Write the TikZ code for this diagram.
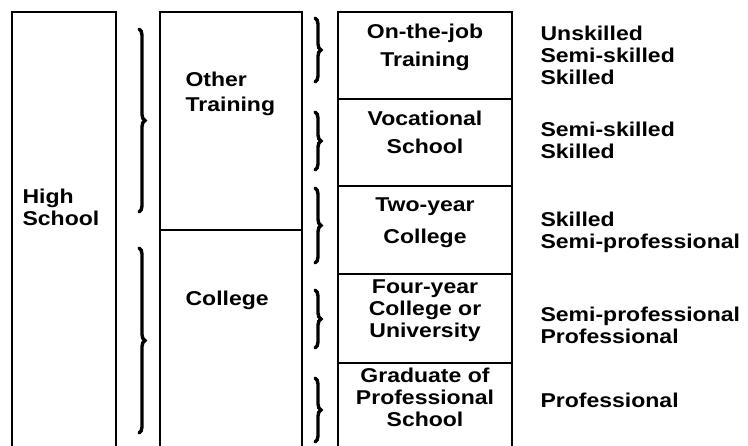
\documentclass[tikz,border=0pt]{standalone}
\usepackage{fontspec}
\setmainfont{Liberation Sans}[FakeStretch=1.15]
\usetikzlibrary{decorations.pathreplacing}
\begin{document}
\begin{tikzpicture}[x=1pt,y=-1pt,line width=1.2pt,
  lbl/.style={font=\fontsize{20}{22}\selectfont\bfseries,inner sep=0pt,align=center},
  lbll/.style={lbl,align=left,anchor=west},
  brc/.style={decorate,decoration={brace,amplitude=6pt},line width=3.4pt,line cap=round}]
\path[use as bounding box] (0,0) rectangle (748,446);
% columns
\draw (12,446) -- (12,12) -- (116,12) -- (116,446);
\draw (160,446) -- (160,12) -- (302,12) -- (302,446);
\draw (160,230) -- (302,230);
\draw (338,446) -- (338,12) -- (512,12) -- (512,446);
\foreach \y in {99,186,274,363}
  \draw (338,\y) -- (512,\y);
% braces
\coordinate (b1a) at (139,29);  \coordinate (b1b) at (139,212);
\coordinate (b2a) at (139,248); \coordinate (b2b) at (139,433);
\draw[brc] (b1a) -- (b1b);
\draw[brc] (b2a) -- (b2b);
\foreach \t/\b in {18/82,112/170,188/263,290/348,378/442}
  \draw[brc] (315,\t) -- (315,\b);
% labels
\node[lbll] (hs) at (22,207) {High\\School};
\node[lbll] (ot) at (185,94) {Other\\[3pt]Training};
\node[lbll] (col) at (185,300) {College};
\node[lbl] (ojt) at (425,47) {On-the-job\\[6pt]Training};
\node[lbl] (voc) at (425,132) {Vocational\\[6pt]School};
\node[lbl] (twoy) at (425,223) {Two-year\\[10pt]College};
\node[lbl] (foury) at (425,311) {Four-year\\College or\\University};
\node[lbl] (grad) at (425,397) {Graduate of\\Professional\\School};
\node[lbll] (r1) at (540,55) {Unskilled\\Semi-skilled\\Skilled};
\node[lbll] (r2) at (540,140) {Semi-skilled\\Skilled};
\node[lbll] (r3) at (540,232) {Skilled\\Semi-professional};
\node[lbll] (r4) at (540,325) {Semi-professional\\Professional};
\node[lbll] (r5) at (540,400) {Professional};
\end{tikzpicture}
\end{document}
